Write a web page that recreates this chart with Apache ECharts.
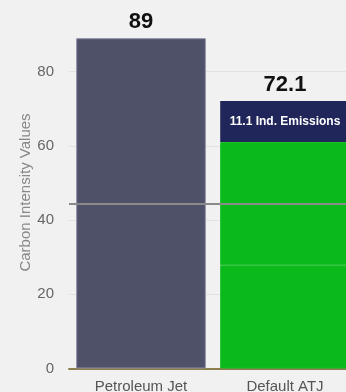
<!DOCTYPE html>
<html>
<head>
<meta charset="utf-8">
<script src="https://cdn.jsdelivr.net/npm/echarts@6/dist/echarts.min.js"></script>
<style>
html, body { margin: 0; padding: 0; background: #f1f1f1; overflow: hidden; }
#chart { width: 360px; height: 392px; }
</style>
</head>
<body>
<div id="chart"></div>
<script>
var categories = ['Petroleum Jet', 'Default ATJ'];
var baseValues = [89, 27.8];
var midValues = ['-', 33.2];
var emissionValues = ['-', 11.1];
var totals = [89, 72.1];
var thresholdValue = 44.5;

var chartDom = document.getElementById('chart');
var myChart = echarts.init(chartDom);
var font = '"Liberation Sans", Arial, sans-serif';

var option = {
    backgroundColor: '#f1f1f1',
    animation: false,
    grid: { left: 69, top: 34.5, width: 288, bottom: 23.5, outerBoundsMode: 'none' },
    xAxis: {
        type: 'category',
        data: categories,
        axisLine: { lineStyle: { color: '#8e7f4f', width: 2 } },
        axisTick: { show: false },
        axisLabel: { color: '#555', fontSize: 15, fontFamily: font, margin: 11 }
    },
    yAxis: {
        type: 'value',
        min: 0,
        max: 90,
        interval: 20,
        name: 'Carbon Intensity Values',
        nameLocation: 'middle',
        nameGap: 36,
        nameMoveOverlap: false,
        nameTextStyle: { color: '#888', fontSize: 15, fontFamily: font, padding: [0, 0, 0, 18] },
        axisLine: { show: false },
        axisTick: { show: false },
        axisLabel: { color: '#666', fontSize: 15, fontFamily: font, margin: 15, showMaxLabel: false },
        splitLine: { showMaxLine: false, lineStyle: { color: '#e2e2e2', width: 1 } }
    },
    series: [
        {
            type: 'bar',
            stack: 'a',
            barCategoryGap: '10%',
            data: [
                { value: baseValues[0], itemStyle: { color: '#4f5168', borderColor: '#8a8da6', borderWidth: 1 } },
                { value: baseValues[1], itemStyle: { color: '#0aba1a', borderColor: '#16bd24', borderWidth: 1 } }
            ],
            markLine: {
                symbol: 'none',
                silent: true,
                label: { show: false },
                lineStyle: { color: '#8a8a8a', width: 2, type: 'solid' },
                data: [{ yAxis: thresholdValue }]
            }
        },
        {
            type: 'bar',
            stack: 'a',
            itemStyle: { color: '#0aba1a', borderColor: '#12bc20', borderWidth: 1 },
            data: midValues
        },
        {
            type: 'bar',
            stack: 'a',
            itemStyle: { color: '#21265a' },
            label: {
                show: true,
                position: 'inside',
                color: '#fff',
                fontWeight: 'bold',
                fontSize: 12,
                fontFamily: font,
                formatter: function (p) { return p.value + ' Ind. Emissions'; }
            },
            data: emissionValues
        },
        {
            type: 'bar',
            barGap: '-100%',
            silent: true,
            itemStyle: { color: 'rgba(0,0,0,0)' },
            label: {
                show: true,
                position: 'top',
                distance: 5,
                color: '#111',
                fontWeight: 'bold',
                fontSize: 22,
                fontFamily: font
            },
            data: totals
        }
    ]
};

myChart.setOption(option);
</script>
</body>
</html>
